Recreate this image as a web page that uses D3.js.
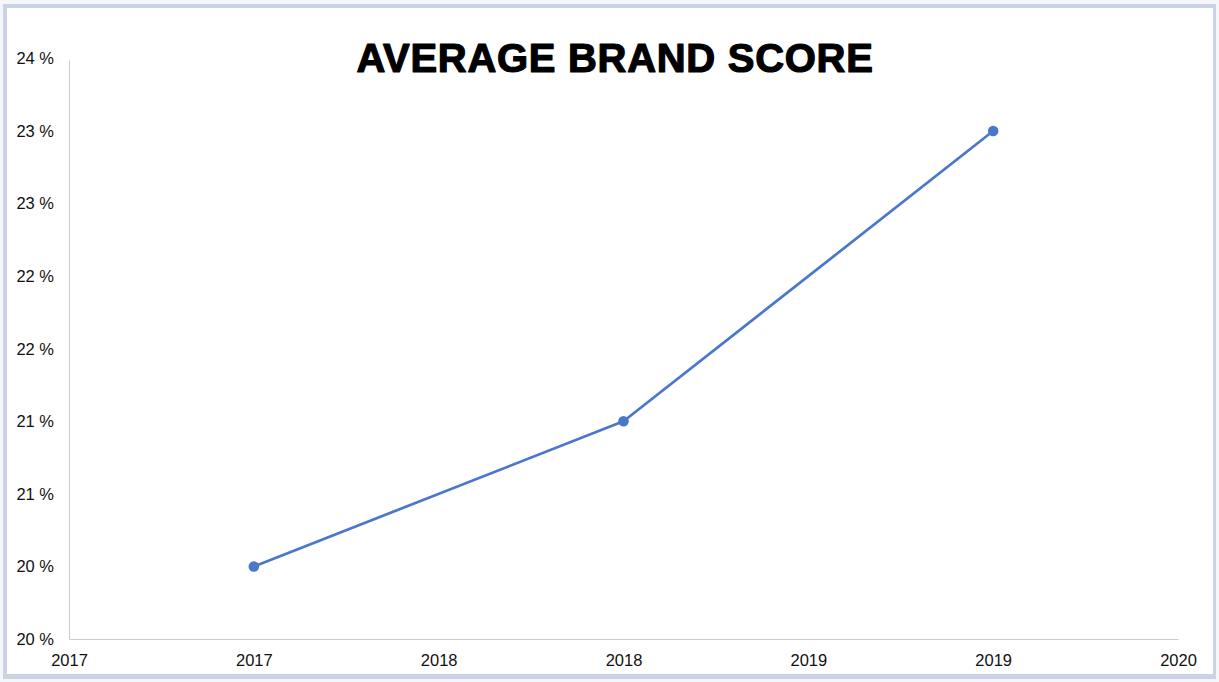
<!DOCTYPE html>
<html>
<head>
<meta charset="utf-8">
<script src="https://cdn.jsdelivr.net/npm/d3@7"></script>
<style>
  html, body { margin: 0; padding: 0; background: #ffffff; }
  svg { display: block; }
</style>
</head>
<body>
<svg id="chart" width="1219" height="682"></svg>
<script>
// Average brand score by year
const years = [2017, 2018, 2019];
const scores = [20.0, 21.0, 23.0];
const yTicks = [19.5, 20, 20.5, 21, 21.5, 22, 22.5, 23, 23.5];
const xTicks = [2016.5, 2017, 2017.5, 2018, 2018.5, 2019, 2019.5];
const title = "AVERAGE BRAND SCORE";

const W = 1219, H = 682;
const svg = d3.select("#chart");

// outer frame
svg.append("rect").attr("x", 0).attr("y", 0).attr("width", W).attr("height", H).attr("fill", "#f4f6f9");
svg.append("rect").attr("x", 3).attr("y", 4).attr("width", W - 6).attr("height", H - 7).attr("fill", "#c9d3e3");
svg.append("rect").attr("x", 7).attr("y", 8).attr("width", W - 13).attr("height", H - 16).attr("fill", "#ffffff");

const x = d3.scaleLinear().domain([2016.5, 2019.5]).range([69, 1178]);
const y = d3.scaleLinear().domain([19.5, 23.5]).range([639, 58.5]);

const font = "'Liberation Sans', Arial, Helvetica, sans-serif";

// axes
const xAxis = svg.append("g").attr("transform", `translate(0,${y(19.5)})`)
  .call(d3.axisBottom(x).tickValues(xTicks).tickSize(0).tickPadding(15)
    .tickFormat(d => d3.format("d")(Math.round(d + 1e-9))));
const yAxis = svg.append("g").attr("transform", `translate(${x(2016.5)},0)`)
  .call(d3.axisLeft(y).tickValues(yTicks).tickSize(0).tickPadding(15)
    .tickFormat(d => Math.round(d + 1e-9) + " %"));

[xAxis, yAxis].forEach(g => {
  g.select(".domain").attr("stroke", "#cccccc").attr("stroke-width", 1);
  g.selectAll("text").attr("font-family", font).attr("font-size", 16.5).attr("fill", "#111111");
});
yAxis.select(".domain").attr("d", `M0.5,${y(23.5) + 2}V${y(19.5)}`);

// series line and markers
const pts = years.map((yr, i) => ({ yr, v: scores[i] }));
const line = d3.line().x(d => x(d.yr)).y(d => y(d.v));
svg.append("path").datum(pts).attr("d", line)
  .attr("fill", "none").attr("stroke", "#4a76cc").attr("stroke-width", 2.7)
  .attr("stroke-linejoin", "round");
svg.selectAll("circle.pt").data(pts).join("circle").attr("class", "pt")
  .attr("cx", d => x(d.yr)).attr("cy", d => y(d.v)).attr("r", 5.3)
  .attr("fill", "#4a76cc");

// title
svg.append("text").attr("x", 615).attr("y", 72).attr("text-anchor", "middle")
  .attr("font-family", font).attr("font-weight", "bold").attr("font-size", 40)
  .attr("letter-spacing", 0.7)
  .attr("fill", "#000").attr("stroke", "#000").attr("stroke-width", 1.2)
  .attr("stroke-linejoin", "round")
  .text(title);
</script>
</body>
</html>
